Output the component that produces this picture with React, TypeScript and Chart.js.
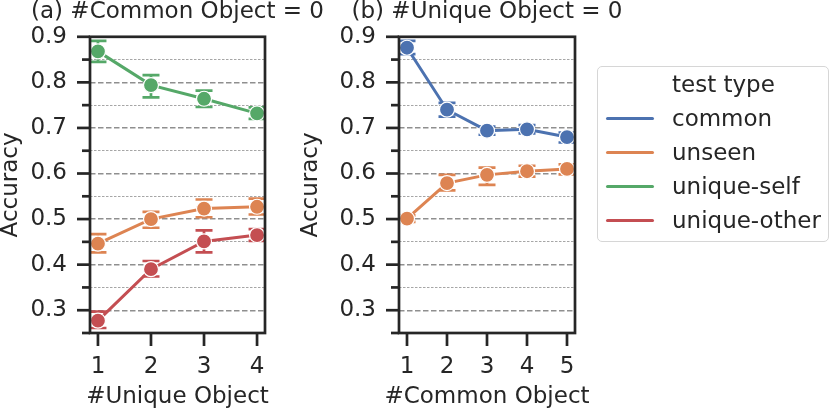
import React, { useEffect, useRef } from 'react';
import { Chart, registerables, Plugin } from 'chart.js';

Chart.register(...registerables);

// series names / colours (seaborn "deep")
const seriesNames = ['common', 'unseen', 'unique-self', 'unique-other'];
const seriesColors = ['#4C72B0', '#DD8452', '#55A868', '#C44E52'];

// y ticks shared by both panels
const yMajorTicks = [0.3, 0.4, 0.5, 0.6, 0.7, 0.8, 0.9];
const yMinorTicks = [0.25, 0.35, 0.45, 0.55, 0.65, 0.75, 0.85];

// (a) #Common Object = 0
const aX = [1, 2, 3, 4];
const aUnseen = [0.446, 0.5, 0.523, 0.527];
const aUnseenLo = [0.427, 0.481, 0.504, 0.51];
const aUnseenHi = [0.467, 0.516, 0.543, 0.545];
const aSelf = [0.868, 0.794, 0.764, 0.732];
const aSelfLo = [0.845, 0.767, 0.746, 0.72];
const aSelfHi = [0.891, 0.816, 0.782, 0.745];
const aOther = [0.277, 0.39, 0.451, 0.465];
const aOtherLo = [0.261, 0.374, 0.427, 0.452];
const aOtherHi = [0.297, 0.408, 0.475, 0.478];

// (b) #Unique Object = 0
const bX = [1, 2, 3, 4, 5];
const bCommon = [0.876, 0.74, 0.694, 0.697, 0.68];
const bCommonLo = [0.862, 0.725, 0.685, 0.688, 0.668];
const bCommonHi = [0.891, 0.755, 0.703, 0.706, 0.69];
const bUnseen = [0.501, 0.579, 0.597, 0.605, 0.61];
const bUnseenLo = [0.494, 0.563, 0.575, 0.593, 0.598];
const bUnseenHi = [0.508, 0.597, 0.613, 0.617, 0.62];

const INK = '#262626';
const FONT = '"DejaVu Sans", sans-serif';
const isMajor = (v: number) => Math.round(v * 100) % 10 === 0;

const errorBars: Plugin = {
  id: 'errorBars',
  beforeDatasetsDraw(chart) {
    const { ctx } = chart;
    const xs = chart.scales.x;
    const ys = chart.scales.y;
    chart.data.datasets.forEach((ds: any) => {
      ctx.save();
      ctx.strokeStyle = ds.borderColor;
      ctx.lineWidth = 2.7;
      ds.data.forEach((p: any, j: number) => {
        const px = xs.getPixelForValue(p.x);
        const top = ys.getPixelForValue(ds.errHi[j]);
        const bot = ys.getPixelForValue(ds.errLo[j]);
        ctx.beginPath();
        ctx.moveTo(px, top);
        ctx.lineTo(px, bot);
        ctx.moveTo(px - 8.5, top);
        ctx.lineTo(px + 8.5, top);
        ctx.moveTo(px - 8.5, bot);
        ctx.lineTo(px + 8.5, bot);
        ctx.stroke();
      });
      ctx.restore();
    });
  },
};

// axes box, tick marks, panel title and x-axis title (not squeezed to the axis width)
const frame: Plugin = {
  id: 'frame',
  afterDraw(chart, _args, opts: any) {
    const { ctx, chartArea: a } = chart;
    ctx.save();
    ctx.strokeStyle = INK;
    ctx.lineWidth = 2.7;
    ctx.strokeRect(a.left, a.top, a.right - a.left, a.bottom - a.top);
    chart.scales.y.ticks.forEach((t) => {
      const py = chart.scales.y.getPixelForValue(t.value);
      const len = isMajor(t.value) ? 13 : 8;
      ctx.beginPath();
      ctx.moveTo(a.left - len, py);
      ctx.lineTo(a.left, py);
      ctx.stroke();
    });
    chart.scales.x.ticks.forEach((t) => {
      const px = chart.scales.x.getPixelForValue(t.value);
      ctx.beginPath();
      ctx.moveTo(px, a.bottom);
      ctx.lineTo(px, a.bottom + 13);
      ctx.stroke();
    });
    const cx = (a.left + a.right) / 2;
    ctx.fillStyle = INK;
    ctx.font = `23px ${FONT}`;
    ctx.textAlign = 'center';
    ctx.textBaseline = 'alphabetic';
    ctx.fillText(opts.title, cx, 17.5);
    ctx.fillText(opts.xTitle, cx, 403);
    ctx.restore();
  },
};

function makeDataset(name: string, xs: number[], ys: number[], lo: number[], hi: number[]) {
  const color = seriesColors[seriesNames.indexOf(name)];
  return {
    label: name,
    data: xs.map((x, i) => ({ x, y: ys[i] })),
    errLo: lo,
    errHi: hi,
    borderColor: color,
    backgroundColor: color,
    borderWidth: 3,
    pointRadius: 7.5,
    pointBackgroundColor: color,
    pointBorderColor: '#ffffff',
    pointBorderWidth: 1.2,
    clip: false as any,
  };
}

interface PanelProps {
  left: number;
  width: number;
  yWidth: number;
  padRight: number;
  title: string;
  xTitle: string;
  xTicks: number[];
  xMin: number;
  xMax: number;
  datasets: any[];
}

function Panel({ left, width, yWidth, padRight, title, xTitle, xTicks, xMin, xMax, datasets }: PanelProps) {
  const canvasRef = useRef<HTMLCanvasElement>(null);

  useEffect(() => {
    if (!canvasRef.current) return;
    const yTicks = [...yMajorTicks, ...yMinorTicks].sort((p, q) => p - q);
    const chart = new Chart(canvasRef.current, {
      type: 'line',
      data: { datasets },
      plugins: [errorBars, frame],
      options: {
        responsive: false,
        animation: false,
        layout: { padding: { top: 31, right: padRight, bottom: 0, left: 0 } },
        plugins: {
          legend: { display: false },
          tooltip: { enabled: false },
          frame: { title, xTitle },
        } as any,
        scales: {
          x: {
            type: 'linear',
            min: xMin,
            max: xMax,
            afterBuildTicks: (s) => {
              s.ticks = xTicks.map((v) => ({ value: v }));
            },
            afterFit: (s) => {
              s.height = 76;
            },
            grid: { display: false, drawTicks: false },
            border: { display: false },
            ticks: {
              autoSkip: false,
              maxRotation: 0,
              padding: 20,
              color: INK,
              font: { family: FONT, size: 23 },
              callback: (v) => String(v),
            },
          },
          y: {
            type: 'linear',
            min: 0.25,
            max: 0.9,
            afterBuildTicks: (s) => {
              s.ticks = yTicks.map((v) => ({ value: v }));
            },
            afterFit: (s) => {
              s.width = yWidth;
            },
            grid: {
              drawTicks: false,
              color: (c: any) => (c.tick && isMajor(c.tick.value) ? '#8f8f8f' : '#a6a6a6'),
              lineWidth: (c: any) => (c.tick && isMajor(c.tick.value) ? 1.4 : 1),
            },
            border: {
              display: false,
              dash: (c: any) => (c.tick ? (isMajor(c.tick.value) ? [5.5, 2.5] : [2.5, 1.5]) : []),
            },
            ticks: {
              autoSkip: false,
              padding: 23,
              color: INK,
              font: { family: FONT, size: 23 },
              callback: (v) => (isMajor(Number(v)) ? Number(v).toFixed(1) : ''),
            },
            title: {
              display: true,
              text: 'Accuracy',
              color: INK,
              font: { family: FONT, size: 23, lineHeight: 1 },
              padding: 0,
            },
          },
        },
      },
    });
    return () => chart.destroy();
  }, []);

  return (
    <canvas
      ref={canvasRef}
      width={width}
      height={409}
      style={{ position: 'absolute', left, top: 0, width, height: 409 }}
    />
  );
}

const legendTitleY = 86;
const legendRowY = [118.3, 152, 186, 220];

function Legend() {
  const text: React.CSSProperties = {
    position: 'absolute',
    left: 672,
    height: 34,
    lineHeight: '34px',
    fontFamily: FONT,
    fontSize: 23,
    color: INK,
    whiteSpace: 'nowrap',
  };
  return (
    <>
      <div
        style={{
          position: 'absolute',
          left: 597,
          top: 66,
          width: 232,
          height: 176,
          boxSizing: 'border-box',
          border: '1.5px solid #d6d6d6',
          borderRadius: 5,
          background: '#ffffff',
        }}
      />
      <div style={{ ...text, top: legendTitleY - 18.6 }}>test type</div>
      {seriesNames.map((name, i) => (
        <React.Fragment key={name}>
          <div
            style={{
              position: 'absolute',
              left: 606,
              top: legendRowY[i] - 1.5,
              width: 48,
              height: 3,
              borderRadius: 1.5,
              background: seriesColors[i],
            }}
          />
          <div style={{ ...text, top: legendRowY[i] - 17 }}>{name}</div>
        </React.Fragment>
      ))}
    </>
  );
}

export default function App() {
  useEffect(() => {
    document.body.style.margin = '0';
  }, []);

  return (
    <div style={{ position: 'relative', width: 830, height: 409, background: '#ffffff' }}>
      <Panel
        left={0}
        width={340}
        yWidth={90}
        padRight={75}
        title="(a) #Common Object = 0"
        xTitle="#Unique Object"
        xTicks={aX}
        xMin={0.85}
        xMax={4.15}
        datasets={[
          makeDataset('unseen', aX, aUnseen, aUnseenLo, aUnseenHi),
          makeDataset('unique-self', aX, aSelf, aSelfLo, aSelfHi),
          makeDataset('unique-other', aX, aOther, aOtherLo, aOtherHi),
        ]}
      />
      <Panel
        left={300}
        width={530}
        yWidth={99}
        padRight={255}
        title="(b) #Unique Object = 0"
        xTitle="#Common Object"
        xTicks={bX}
        xMin={0.8}
        xMax={5.2}
        datasets={[
          makeDataset('common', bX, bCommon, bCommonLo, bCommonHi),
          makeDataset('unseen', bX, bUnseen, bUnseenLo, bUnseenHi),
        ]}
      />
      <Legend />
    </div>
  );
}
